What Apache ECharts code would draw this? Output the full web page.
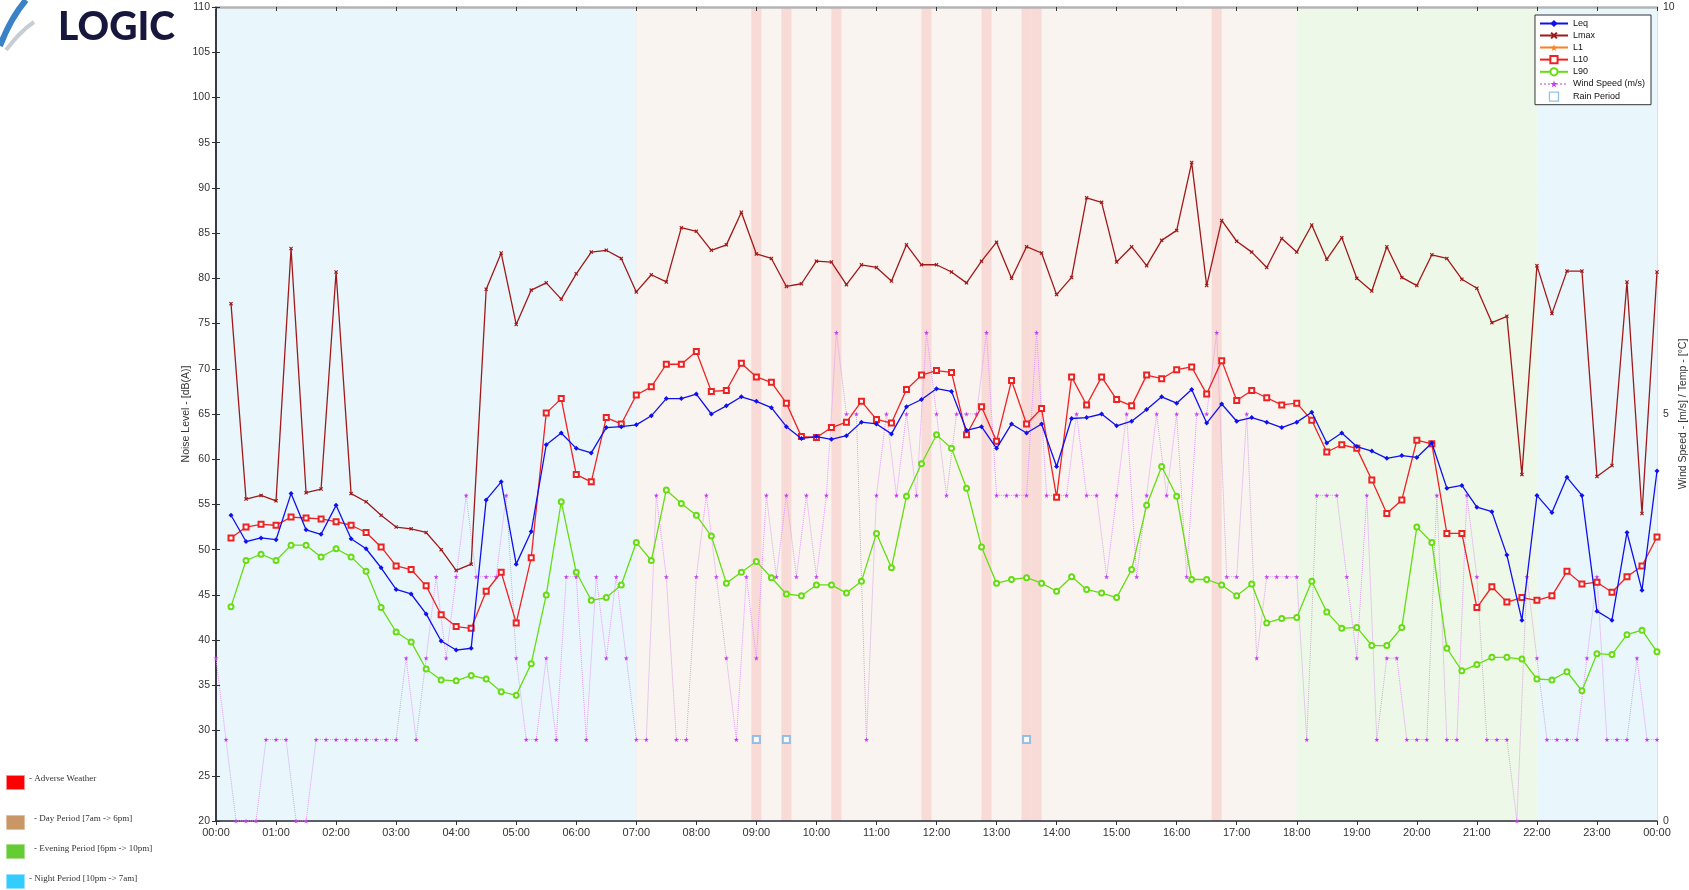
<!DOCTYPE html>
<html><head><meta charset="utf-8">
<script src="https://cdn.jsdelivr.net/npm/echarts@6/dist/echarts.min.js"></script>
<style>html,body{margin:0;padding:0;background:#fff}#c{width:1689px;height:890px}</style>
</head><body><div id="c"></div>
<script>
// 15-minute interval values, 00:15 -> 24:00 (4 per hour)
const leq = [
53.8,50.9,51.3,51.1, 56.2,52.2,51.7,54.9, 51.2,50.1,48.0,45.6, 45.1,42.9,39.9,38.9,
39.1,55.5,57.5,48.4, 52.0,61.6,62.9,61.2, 60.7,63.5,63.6,63.8, 64.8,66.7,66.7,67.2,
65.0,65.9,66.9,66.4, 65.7,63.6,62.3,62.5, 62.2,62.6,64.1,63.9, 62.8,65.8,66.6,67.8,
67.5,63.2,63.6,61.2, 63.9,62.9,63.9,59.2, 64.5,64.6,65.0,63.7, 64.2,65.5,66.9,66.2,
67.7,64.0,66.1,64.2, 64.6,64.1,63.5,64.1, 65.2,61.8,62.9,61.4, 60.9,60.1,60.4,60.2,
61.8,56.8,57.1,54.7, 54.2,49.4,42.2,56.0, 54.1,58.0,56.0,43.2, 42.2,51.9,45.5,58.7];
const lmax = [
77.2,55.6,56.0,55.4, 83.3,56.3,56.7,80.7, 56.2,55.3,53.8,52.5, 52.3,51.9,50.0,47.7,
48.4,78.8,82.8,74.9, 78.7,79.5,77.7,80.5, 82.9,83.1,82.2,78.5, 80.4,79.6,85.6,85.2,
83.1,83.7,87.3,82.7, 82.2,79.1,79.4,81.9, 81.8,79.3,81.5,81.2, 79.7,83.7,81.5,81.5,
80.7,79.5,81.9,84.0, 80.0,83.5,82.8,78.2, 80.1,88.9,88.4,81.8, 83.5,81.4,84.2,85.3,
92.8,79.2,86.4,84.1, 82.9,81.2,84.4,82.9, 85.9,82.1,84.5,80.0, 78.6,83.5,80.1,79.2,
82.6,82.2,79.9,78.9, 75.1,75.8,58.3,81.4, 76.1,80.8,80.8,58.1, 59.3,79.6,54.0,80.7];
const l1 = [];
const l10 = [
51.3,52.5,52.8,52.7, 53.6,53.5,53.4,53.1, 52.7,51.9,50.3,48.2, 47.8,46.0,42.8,41.5,
41.3,45.4,47.5,41.9, 49.1,65.1,66.7,58.3, 57.5,64.6,63.9,67.1, 68.0,70.5,70.5,71.9,
67.5,67.6,70.6,69.1, 68.5,66.2,62.5,62.4, 63.5,64.1,66.4,64.4, 64.0,67.7,69.3,69.8,
69.6,62.7,65.8,62.0, 68.7,63.9,65.6,55.8, 69.1,66.0,69.1,66.6, 65.9,69.3,68.9,69.9,
70.2,67.2,70.9,66.5, 67.6,66.8,66.0,66.2, 64.3,60.8,61.6,61.2, 57.7,54.0,55.5,62.1,
61.7,51.8,51.8,43.6, 45.9,44.2,44.7,44.4, 44.9,47.6,46.2,46.4, 45.3,47.0,48.2,51.4];
const l90 = [
43.7,48.8,49.5,48.8, 50.5,50.5,49.2,50.1, 49.2,47.6,43.6,40.9, 39.8,36.8,35.6,35.5,
36.1,35.7,34.3,33.9, 37.4,45.0,55.3,47.5, 44.4,44.7,46.1,50.8, 48.8,56.6,55.1,53.8,
51.5,46.3,47.5,48.7, 46.9,45.1,44.9,46.1, 46.1,45.2,46.5,51.8, 48.0,55.9,59.5,62.7,
61.2,56.8,50.3,46.3, 46.7,46.9,46.3,45.4, 47.0,45.6,45.2,44.7, 47.8,54.9,59.2,55.9,
46.7,46.7,46.1,44.9, 46.2,41.9,42.4,42.5, 46.5,43.1,41.3,41.4, 39.4,39.4,41.4,52.5,
50.8,39.1,36.6,37.3, 38.1,38.1,37.9,35.7, 35.6,36.5,34.4,38.5, 38.4,40.6,41.1,38.7];
// 10-minute wind speed (m/s), 00:00 -> 24:00 (6 per hour)
const wind = [
2,1,0,0,0,1, 1,1,0,0,1,1, 1,1,1,1,1,1, 1,2,1,2,3,2,
3,4,3,3,3,4, 2,1,1,2,1,3, 3,1,3,2,3,2, 1,1,4,3,1,1,
3,4,3,2,1,3, 2,4,3,4,3,4, 3,4,6,5,5,1, 4,5,4,5,4,6,
5,4,5,5,5,6, 4,4,4,4,6,4, 4,4,5,4,4,3, 4,5,3,4,5,4,
5,3,5,5,6,3, 3,5,2,3,3,3, 3,1,4,4,4,3, 2,4,1,2,2,1,
1,1,4,1,1,4, 3,1,1,1,0,3, 2,1,1,1,1,2, 3,1,1,1,2,1, 1];
const rainHours = [9, 9.5, 13.5];
const rainLevel = [1, 1, 1];
const adverseHours = [9, 9.5, 10.3333, 11.8333, 12.8333, 13.5, 13.6667, 16.6667];
const periodFrom = [0, 7, 18, 22];
const periodTo = [7, 18, 22, 24];
const periodKind = ['night', 'day', 'evening', 'night'];

const periodColor = {night: '#e9f7fd', day: '#f9f4f0', evening: '#eef8e8'};
const q = (arr) => arr.map((v, i) => [(i + 1) * 0.25, v]);
const w = wind.map((v, i) => [i / 6, v]);
const star = 'path://M50,0 L61,35 L98,35 L68,57 L79,91 L50,70 L21,91 L32,57 L2,35 L39,35 Z';
const cross = 'path://M0,2 L2,0 L5,3 L8,0 L10,2 L7,5 L10,8 L8,10 L5,7 L2,10 L0,8 L3,5 Z';
const square = 'path://M0,0 L10,0 L10,10 L0,10 Z';
const FONT = '"Liberation Sans", Arial, sans-serif';
const SERIF = '9px "Liberation Serif", "DejaVu Serif", serif';

const chart = echarts.init(document.getElementById('c'), null, {renderer: 'canvas'});
const hourFmt = v => String(Math.round(v) % 24).padStart(2, '0') + ':00';

const option = {
  backgroundColor: '#ffffff',
  animation: false,
  textStyle: {fontFamily: FONT},
  grid: {left: 216, right: 32, top: 7, bottom: 69, containLabel: false, outerBoundsMode: 'none'},
  legend: {
    orient: 'vertical', right: 38, top: 15, backgroundColor: '#fff',
    borderColor: '#333', borderWidth: 1, padding: [4, 6, 3, 4], itemGap: 3,
    itemWidth: 28, itemHeight: 9, symbolKeepAspect: true,
    textStyle: {fontSize: 9, color: '#111', fontFamily: FONT},
    data: ['Leq', 'Lmax', 'L1', 'L10', 'L90', 'Wind Speed (m/s)',
      {name: 'Rain Period', icon: square, itemStyle: {color: '#fff', borderColor: '#7ab4e4', borderWidth: 1.3}}]
  },
  xAxis: [{
    type: 'value', min: 0, max: 24, interval: 1, z: 1,
    axisLine: {lineStyle: {color: '#2b2f38', width: 1.5}},
    axisTick: {show: true, length: 4, lineStyle: {color: '#2b2f38'}},
    axisLabel: {formatter: hourFmt, color: '#333', fontSize: 11, margin: 6},
    splitLine: {show: true, lineStyle: {color: 'rgba(110,120,130,0.22)', width: 1.2}}
  }, {
    type: 'value', min: 0, max: 24, interval: 1, position: 'top', z: 1,
    axisLine: {show: true, lineStyle: {color: '#b4b4b4', width: 2.5}},
    axisTick: {show: true, inside: true, length: 4, lineStyle: {color: '#333'}},
    axisLabel: {show: false}, splitLine: {show: false}
  }],
  yAxis: [{
    type: 'value', min: 20, max: 110, interval: 5, z: 1,
    name: 'Noise Level - [dB(A)]', nameLocation: 'middle', nameGap: 24, nameMoveOverlap: false,
    nameTextStyle: {fontSize: 10.5, color: '#333'},
    axisLine: {show: true, lineStyle: {color: '#2b2f38', width: 1.5}},
    axisTick: {show: true, length: 4, lineStyle: {color: '#2b2f38'}},
    axisLabel: {color: '#333', fontSize: 10.5, margin: 6},
    splitLine: {show: true, lineStyle: {color: 'rgba(110,120,130,0.22)', width: 1.2}}
  }, {
    type: 'value', min: 0, max: 10, interval: 10 / 18, position: 'right', z: 1,
    name: 'Wind Speed - [m/s] / Temp - [°C]', nameLocation: 'middle', nameGap: 21, nameMoveOverlap: false,
    nameRotate: 90,
    nameTextStyle: {fontSize: 10.5, color: '#333'},
    axisLine: {show: true, lineStyle: {color: '#2b2f38', width: 1.5}},
    axisTick: {show: true, length: 4, lineStyle: {color: '#2b2f38'}},
    axisLabel: {color: '#333', fontSize: 10.5, margin: 6,
      formatter: v => { const r = Math.round(v); return (Math.abs(v - r) < 0.01 && r % 5 === 0) ? String(r) : ''; }},
    splitLine: {show: false}
  }],
  series: [
    {
      name: 'bands', type: 'line', data: [], z: 0, silent: true, symbol: 'none',
      markArea: {silent: true, data: periodFrom.map((f, i) => [
        {xAxis: f, itemStyle: {color: periodColor[periodKind[i]]}}, {xAxis: periodTo[i]}])}
    },
    {
      name: 'adverse', type: 'line', data: [], z: 0, silent: true, symbol: 'none',
      markArea: {silent: true, itemStyle: {color: 'rgba(247,200,196,0.6)'},
        data: adverseHours.map(h => [{xAxis: h - 1 / 12}, {xAxis: h + 1 / 12}])}
    },
    {name: 'Wind Speed (m/s)', type: 'line', yAxisIndex: 1, z: 3, data: w,
      symbol: star, symbolSize: 5, itemStyle: {color: '#c43cf0'},
      lineStyle: {color: '#dc9cf0', width: 1, type: 'dotted'}},
    {name: 'Lmax', type: 'line', z: 4, data: q(lmax), symbol: cross, symbolSize: 4,
      itemStyle: {color: '#a01818'}, lineStyle: {color: '#a01818', width: 1.3}},
    {name: 'L1', type: 'line', z: 4, data: l1, symbol: star, symbolSize: 6,
      itemStyle: {color: '#ff7f1a'}, lineStyle: {color: '#ff7f1a', width: 1.3}},
    {name: 'L10', type: 'line', z: 5, data: q(l10), symbol: 'emptyRect', symbolSize: 5,
      itemStyle: {color: '#ee2222', borderWidth: 1}, lineStyle: {color: '#ee2222', width: 1.3}},
    {name: 'L90', type: 'line', z: 5, data: q(l90), symbol: 'emptyCircle', symbolSize: 5,
      itemStyle: {color: '#66dd11', borderWidth: 1}, lineStyle: {color: '#66dd11', width: 1.3}},
    {name: 'Leq', type: 'line', z: 6, data: q(leq), symbol: 'diamond', symbolSize: 5,
      itemStyle: {color: '#1010ee'}, lineStyle: {color: '#1010ee', width: 1.3}},
    {name: 'Rain Period', type: 'scatter', yAxisIndex: 1, z: 6,
      data: rainHours.map((h, i) => [h, rainLevel[i]]), symbol: 'emptyRect', symbolSize: 7,
      itemStyle: {color: '#7ab4e4', borderWidth: 1.3}}
  ],
  graphic: [
    {type: 'bezierCurve', shape: {x1: 0, y1: 46, cpx1: 6, cpy1: 30, cpx2: 14, cpy2: 14, x2: 26, y2: 0}, style: {stroke: '#3a82c8', lineWidth: 6, fill: null}},
    {type: 'bezierCurve', shape: {x1: 6, y1: 50, cpx1: 14, cpy1: 40, cpx2: 22, cpy2: 30, x2: 34, y2: 22}, style: {stroke: '#c8ccd4', lineWidth: 4, fill: null}},
    {type: 'text', x: 58, y: 8, style: {text: 'LOGIC', font: '900 39px "Lato", "Inter", sans-serif', fill: '#17173d'}},
    {type: 'rect', shape: {x: 6.5, y: 775.5, width: 18, height: 14}, style: {fill: '#ff0000', stroke: '#ff8a8a', lineWidth: 1}},
    {type: 'text', x: 29, y: 774, style: {text: '- Adverse Weather', font: SERIF, fill: '#333'}},
    {type: 'rect', shape: {x: 6.5, y: 815.5, width: 18, height: 14}, style: {fill: '#c99766', stroke: '#e0c0a0', lineWidth: 1}},
    {type: 'text', x: 34, y: 814, style: {text: '- Day Period [7am -> 6pm]', font: SERIF, fill: '#333'}},
    {type: 'rect', shape: {x: 6.5, y: 844.5, width: 18, height: 14}, style: {fill: '#66cc33', stroke: '#a8e090', lineWidth: 1}},
    {type: 'text', x: 34, y: 844, style: {text: '- Evening Period [6pm -> 10pm]', font: SERIF, fill: '#333'}},
    {type: 'rect', shape: {x: 6.5, y: 874.5, width: 18, height: 14}, style: {fill: '#33ccff', stroke: '#99e0ff', lineWidth: 1}},
    {type: 'text', x: 29, y: 874, style: {text: '- Night Period [10pm -> 7am]', font: SERIF, fill: '#333'}}
  ]
};
chart.setOption(option);
</script></body></html>
